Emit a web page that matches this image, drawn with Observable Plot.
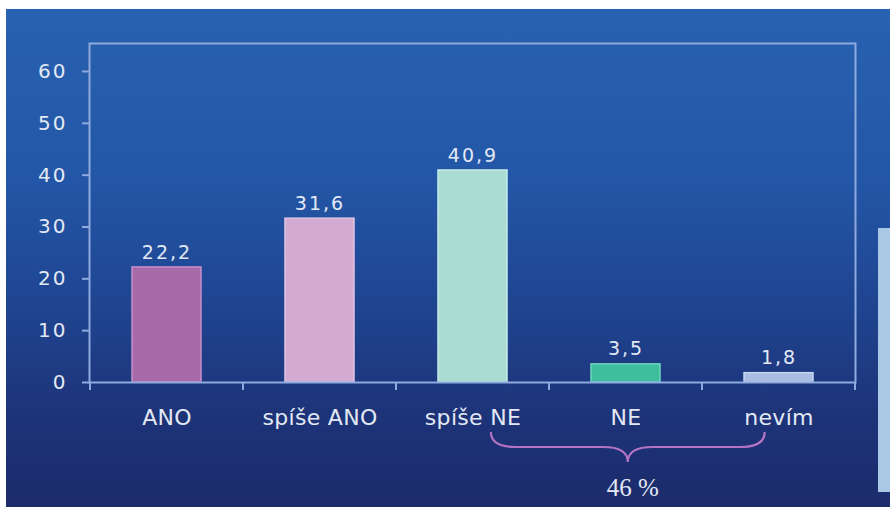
<!DOCTYPE html>
<html>
<head>
<meta charset="utf-8">
<script src="https://cdn.jsdelivr.net/npm/d3@7"></script>
<script src="https://cdn.jsdelivr.net/npm/@observablehq/plot@0.6"></script>
<style>
  html, body { margin: 0; padding: 0; background: #fff; }
  #chart svg text { letter-spacing: 1px; }
  #chart svg .vals text { letter-spacing: 2px; }
  #chart svg .yax text { letter-spacing: 2px; }
  #chart svg .xax text { letter-spacing: 0.3px; }
</style>
</head>
<body>
<div id="chart"></div>
<script>
const categories = ["ANO", "spíše ANO", "spíše NE", "NE", "nevím"];
const values = [22.2, 31.6, 40.9, 3.5, 1.8];
const valueLabels = ["22,2", "31,6", "40,9", "3,5", "1,8"];
const barColors = ["#a96aaa", "#d2aad2", "#aadcd4", "#3ebd9f", "#aabde2"];
const barStrokes = ["#c48ec6", "#e3c4e3", "#c6ece6", "#6fd6bd", "#c6d4f0"];
const yTicks = [0, 10, 20, 30, 40, 50, 60];
const braceFrom = "spíše NE";
const braceTo = "nevím";
const braceLabel = "46 %";

const data = categories.map((c, i) => ({
  cat: c, value: values[i], label: valueLabels[i], fill: barColors[i], stroke: barStrokes[i]
}));

const lineColor = "#8eaade";
const textColor = "#e2e9f4";

const chart = Plot.plot({
  width: 890,
  height: 507,
  marginLeft: 89,
  marginRight: 35,
  marginTop: 43,
  marginBottom: 125,
  style: {
    background: "linear-gradient(180deg, #2862b0 0%, #2356a6 35%, #1f4490 60%, #1d3378 82%, #1c2b6b 100%) 6px 9px / 884px 498px no-repeat, #ffffff",
    color: textColor,
    fontFamily: "DejaVu Sans, Verdana, sans-serif",
    overflow: "visible"
  },
  x: { domain: categories, paddingInner: 0.55, paddingOuter: 0.275 },
  y: { domain: [0, 65.4] },
  color: { type: "identity" },
  marks: [
    Plot.barY(data, { x: "cat", y: "value", fill: "fill", stroke: "stroke", strokeWidth: 1.5 }),
    Plot.frame({ stroke: lineColor, strokeWidth: 2 }),
    Plot.axisY({ ticks: yTicks, tickSize: 7, tickPadding: 15, fontSize: 20, stroke: lineColor, strokeWidth: 2, tickFormat: d => String(d), label: null, fill: textColor, className: "yax" }),
    Plot.axisX({ tickSize: 0, tickPadding: 27, fontSize: 22, label: null, fill: textColor, className: "xax" }),
    Plot.text(data, { x: "cat", y: "value", text: "label", dy: -15, fontSize: 19, fill: textColor, className: "vals" })
  ]
});

document.getElementById("chart").appendChild(chart);

// annotations using the chart's own scales
const sx = chart.scale("x");
const sy = chart.scale("y");
const base = sy.apply(0);
const svg = d3.select(chart);
const center = c => sx.apply(c) + sx.bandwidth / 2;

// boundary ticks of the x axis
const boundaries = categories.map(c => center(c) - sx.step / 2).concat([center(categories[categories.length - 1]) + sx.step / 2]);
svg.append("g").selectAll("line").data(boundaries).join("line")
  .attr("x1", d => d).attr("x2", d => d)
  .attr("y1", base).attr("y2", base + 8)
  .attr("stroke", lineColor).attr("stroke-width", 2);

// curly brace under the last three categories
const x1 = center(braceFrom) + 0.12 * sx.step;
const x2 = center(braceTo) - 0.09 * sx.step;
const mid = (x1 + x2) / 2;
const yTop = base + 50, yMid = base + 65, yTip = base + 80;
const r = 25;
const path = `M${x1},${yTop} Q${x1},${yMid} ${x1 + r},${yMid} L${mid - r},${yMid} Q${mid},${yMid} ${mid},${yTip} Q${mid},${yMid} ${mid + r},${yMid} L${x2 - r},${yMid} Q${x2},${yMid} ${x2},${yTop}`;
svg.append("path").attr("d", path).attr("fill", "none").attr("stroke", "#b474c4").attr("stroke-width", 2.2);

svg.append("text")
  .attr("x", mid + 5).attr("y", base + 114)
  .attr("text-anchor", "middle")
  .style("font-family", "'Liberation Serif', 'DejaVu Serif', serif")
  .style("font-size", "25px")
  .style("letter-spacing", "0px")
  .attr("fill", textColor)
  .text(braceLabel);

// light side panel at the right edge
svg.append("rect").attr("x", 878).attr("y", 228).attr("width", 12).attr("height", 264).attr("fill", "#a9c8e6");
</script>
</body>
</html>
